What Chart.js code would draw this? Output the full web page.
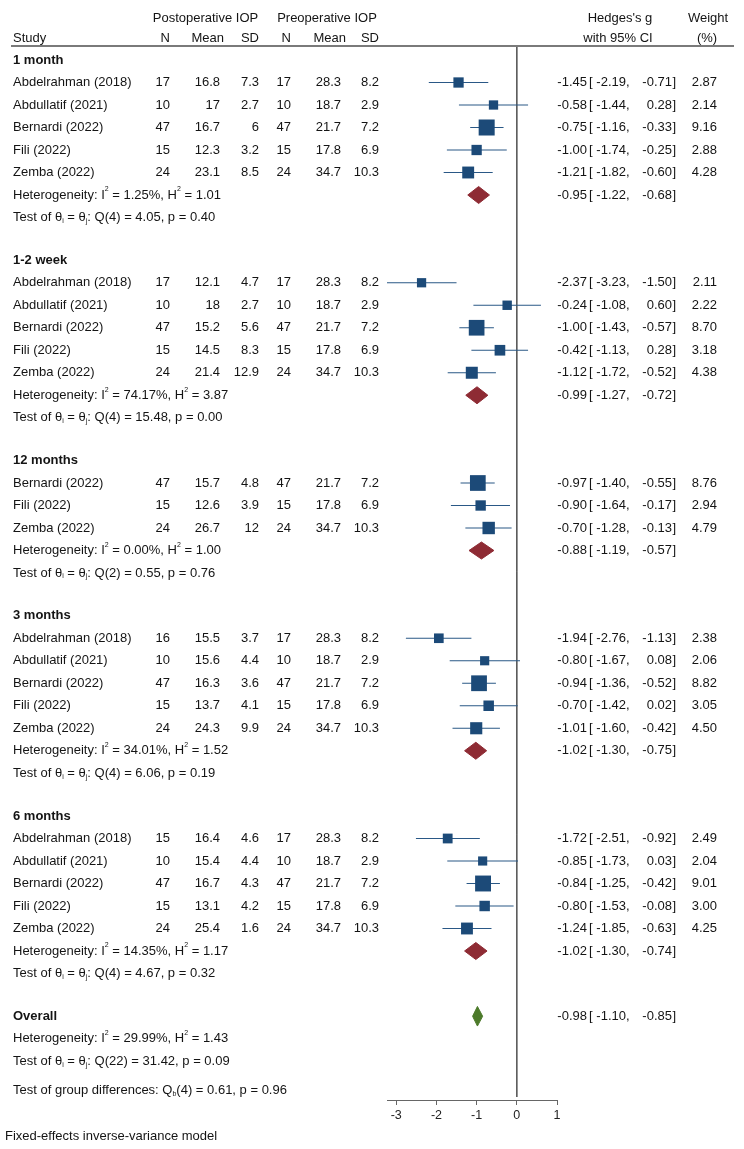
<!DOCTYPE html>
<html><head><meta charset="utf-8">
<script src="https://cdn.jsdelivr.net/npm/chart.js@4.4.0/dist/chart.umd.min.js"></script>
<style>html,body{margin:0;padding:0;background:#fff;}#wrap{width:744px;height:1149px;}</style>
</head><body><div id="wrap"><canvas id="c" width="744" height="1149"></canvas></div>
<script>
// ---------------- data ----------------
const groupLabels = ['1 month', '1-2 week', '12 months', '3 months', '6 months'];
const studyGroup  = [0,0,0,0,0, 1,1,1,1,1, 2,2,2, 3,3,3,3,3, 4,4,4,4,4];
const studyNames  = [
  'Abdelrahman (2018)','Abdullatif (2021)','Bernardi (2022)','Fili (2022)','Zemba (2022)',
  'Abdelrahman (2018)','Abdullatif (2021)','Bernardi (2022)','Fili (2022)','Zemba (2022)',
  'Bernardi (2022)','Fili (2022)','Zemba (2022)',
  'Abdelrahman (2018)','Abdullatif (2021)','Bernardi (2022)','Fili (2022)','Zemba (2022)',
  'Abdelrahman (2018)','Abdullatif (2021)','Bernardi (2022)','Fili (2022)','Zemba (2022)'];
const postN    = [17,10,47,15,24, 17,10,47,15,24, 47,15,24, 16,10,47,15,24, 15,10,47,15,24];
const postMean = [16.8,17,16.7,12.3,23.1, 12.1,18,15.2,14.5,21.4, 15.7,12.6,26.7, 15.5,15.6,16.3,13.7,24.3, 16.4,15.4,16.7,13.1,25.4];
const postSD   = [7.3,2.7,6,3.2,8.5, 4.7,2.7,5.6,8.3,12.9, 4.8,3.9,12, 3.7,4.4,3.6,4.1,9.9, 4.6,4.4,4.3,4.2,1.6];
const preN     = [17,10,47,15,24, 17,10,47,15,24, 47,15,24, 17,10,47,15,24, 17,10,47,15,24];
const preMean  = [28.3,18.7,21.7,17.8,34.7, 28.3,18.7,21.7,17.8,34.7, 21.7,17.8,34.7, 28.3,18.7,21.7,17.8,34.7, 28.3,18.7,21.7,17.8,34.7];
const preSD    = [8.2,2.9,7.2,6.9,10.3, 8.2,2.9,7.2,6.9,10.3, 7.2,6.9,10.3, 8.2,2.9,7.2,6.9,10.3, 8.2,2.9,7.2,6.9,10.3];
const hedgesG  = [-1.45,-0.58,-0.75,-1.00,-1.21, -2.37,-0.24,-1.00,-0.42,-1.12, -0.97,-0.90,-0.70, -1.94,-0.80,-0.94,-0.70,-1.01, -1.72,-0.85,-0.84,-0.80,-1.24];
const ciLow    = [-2.19,-1.44,-1.16,-1.74,-1.82, -3.23,-1.08,-1.43,-1.13,-1.72, -1.40,-1.64,-1.28, -2.76,-1.67,-1.36,-1.42,-1.60, -2.51,-1.73,-1.25,-1.53,-1.85];
const ciHigh   = [-0.71,0.28,-0.33,-0.25,-0.60, -1.50,0.60,-0.57,0.28,-0.52, -0.55,-0.17,-0.13, -1.13,0.08,-0.52,0.02,-0.42, -0.92,0.03,-0.42,-0.08,-0.63];
const weightPct= [2.87,2.14,9.16,2.88,4.28, 2.11,2.22,8.70,3.18,4.38, 8.76,2.94,4.79, 2.38,2.06,8.82,3.05,4.50, 2.49,2.04,9.01,3.00,4.25];

const groupG    = [-0.95,-0.99,-0.88,-1.02,-1.02];
const groupLow  = [-1.22,-1.27,-1.19,-1.30,-1.30];
const groupHigh = [-0.68,-0.72,-0.57,-0.75,-0.74];
const groupI2   = [1.25,74.17,0.00,34.01,14.35];
const groupH2   = [1.01,3.87,1.00,1.52,1.17];
const groupQdf  = [4,4,2,4,4];
const groupQ    = [4.05,15.48,0.55,6.06,4.67];
const groupP    = [0.40,0.00,0.76,0.19,0.32];

const overallG = -0.98, overallLow = -1.10, overallHigh = -0.85;
const overallI2 = 29.99, overallH2 = 1.43, overallQdf = 22, overallQ = 31.42, overallP = 0.09;
const diffQdf = 4, diffQ = 0.61, diffP = 0.96;

const tickValues = [-3, -2, -1, 0, 1];

// ---------------- layout ----------------
const ROW_PX = 22.5;
const GROUP_GAP = 1.9;
const rowPos = { header: [], study: [], het: [], test: [] };
let r = 0;
groupLabels.forEach((lab, gi) => {
  rowPos.header[gi] = r; r += 1;
  studyGroup.forEach((sg, i) => { if (sg === gi) { rowPos.study[i] = r; r += 1; } });
  rowPos.het[gi] = r; r += 1;
  rowPos.test[gi] = r; r += GROUP_GAP;
});
const overallRow = r, overallHetRow = r + 1, overallTestRow = r + 2, diffRow = r + 2 + 1.29;

const AREA_TOP = 46, AREA_BOTTOM = 1100, FIRST_ROW_PX = 60;
const yMin = -(FIRST_ROW_PX - AREA_TOP) / ROW_PX;
const yMax = yMin + (AREA_BOTTOM - AREA_TOP) / ROW_PX;

const SQ_COLOR = '#1c4a78', CI_COLOR = '#2a5886', RED = '#8e2b34', GREEN = '#4c7a2a', TXT = '#141414';
const FONT = '"Liberation Sans", Arial, sans-serif';
const FS = 13;

// ---------------- datasets ----------------
const datasets = [];
datasets.push({ type: 'line', data: [{x: 0, y: yMin}, {x: 0, y: yMax - 3 / ROW_PX}],
  borderColor: '#5a5a5a', borderWidth: 1, pointRadius: 0, fill: false, clip: false, order: 10 });
hedgesG.forEach((v, i) => {
  datasets.push({ type: 'line', data: [{x: ciLow[i], y: rowPos.study[i]}, {x: ciHigh[i], y: rowPos.study[i]}],
    borderColor: CI_COLOR, borderWidth: 1.2, pointRadius: 0, fill: false, clip: false, order: 5 });
});
const sqR = weightPct.map(w => (3 + 4.3 * Math.sqrt(w)) / Math.SQRT2);
datasets.push({ type: 'scatter', data: hedgesG.map((v, i) => ({x: v, y: rowPos.study[i]})),
  pointStyle: 'rect', pointRadius: sqR, pointHoverRadius: sqR,
  pointBackgroundColor: SQ_COLOR, backgroundColor: SQ_COLOR, pointBorderWidth: 0, borderWidth: 0,
  clip: false, order: 1 });
const DH = 8.5 / ROW_PX;
groupG.forEach((v, gi) => {
  const yy = rowPos.het[gi];
  datasets.push({ type: 'line', data: [
      {x: groupLow[gi], y: yy}, {x: v, y: yy - DH}, {x: groupHigh[gi], y: yy}, {x: v, y: yy + DH}, {x: groupLow[gi], y: yy}],
    fill: 'shape', backgroundColor: RED, borderColor: RED, borderWidth: 1, pointRadius: 0, tension: 0, clip: false, order: 0 });
});
const ODH = 9.8 / ROW_PX;
datasets.push({ type: 'line', data: [
    {x: overallLow, y: overallRow}, {x: overallG, y: overallRow - ODH}, {x: overallHigh, y: overallRow},
    {x: overallG, y: overallRow + ODH}, {x: overallLow, y: overallRow}],
  fill: 'shape', backgroundColor: GREEN, borderColor: GREEN, borderWidth: 1, pointRadius: 0, tension: 0, clip: false, order: 0 });

// ---------------- text plugin ----------------
const f2 = v => v.toFixed(2);
const textPlugin = {
  id: 'forestText',
  afterDraw(chart) {
    const ctx = chart.ctx, ys = chart.scales.y;
    const F = FS + 'px ' + FONT, FB = 'bold ' + FS + 'px ' + FONT;
    ctx.save();
    ctx.fillStyle = TXT; ctx.textBaseline = 'middle';
    const t = (s, x, y, align = 'left', font = F) => { ctx.font = font; ctx.textAlign = align; ctx.fillText(s, x, y); };
    const rich = (segs, x, y) => {
      let cx = x; ctx.textAlign = 'left';
      segs.forEach(([s, kind]) => {
        let font = F, dy = 0;
        if (kind === 'sup') { font = '7px ' + FONT; dy = -5.5; }
        if (kind === 'sub') { font = '7px ' + FONT; dy = 3.5; }
        ctx.font = font; ctx.fillText(s, cx, y + dy); cx += ctx.measureText(s).width;
      });
    };
    t('Postoperative IOP', 205.5, 18, 'center');
    t('Preoperative IOP', 327, 18, 'center');
    t('Study', 13, 38);
    t('N', 170, 38, 'right'); t('Mean', 224, 38, 'right'); t('SD', 259, 38, 'right');
    t('N', 291, 38, 'right'); t('Mean', 346, 38, 'right'); t('SD', 379, 38, 'right');
    t("Hedges's g", 620, 18, 'center'); t('with 95% CI', 618, 38, 'center');
    t('Weight', 708, 18, 'center'); t('(%)', 707, 38, 'center');
    ctx.strokeStyle = '#7a7a7a'; ctx.lineWidth = 2;
    ctx.beginPath(); ctx.moveTo(11, 46); ctx.lineTo(734, 46); ctx.stroke();

    const ci = (g, lo, hi, y) => {
      t(f2(g), 587, y, 'right'); t('[', 589, y);
      t(f2(lo), 626, y, 'right'); t(',', 626, y);
      t(f2(hi), 672, y, 'right'); t(']', 672.5, y);
    };
    groupLabels.forEach((lab, gi) => {
      t(lab, 13, ys.getPixelForValue(rowPos.header[gi]), 'left', FB);
      const yh = ys.getPixelForValue(rowPos.het[gi]);
      rich([['Heterogeneity: I', ''], ['2', 'sup'], [' = ' + f2(groupI2[gi]) + '%, H', ''], ['2', 'sup'], [' = ' + f2(groupH2[gi]), '']], 13, yh);
      ci(groupG[gi], groupLow[gi], groupHigh[gi], yh);
      const yt = ys.getPixelForValue(rowPos.test[gi]);
      rich([['Test of θ', ''], ['i', 'sub'], [' = θ', ''], ['j', 'sub'], [': Q(' + groupQdf[gi] + ') = ' + f2(groupQ[gi]) + ', p = ' + f2(groupP[gi]), '']], 13, yt);
    });
    studyNames.forEach((nm, i) => {
      const y = ys.getPixelForValue(rowPos.study[i]);
      t(nm, 13, y);
      t(String(postN[i]), 170, y, 'right'); t(String(postMean[i]), 220, y, 'right'); t(String(postSD[i]), 259, y, 'right');
      t(String(preN[i]), 291, y, 'right'); t(String(preMean[i]), 341, y, 'right'); t(String(preSD[i]), 379, y, 'right');
      ci(hedgesG[i], ciLow[i], ciHigh[i], y);
      t(f2(weightPct[i]), 717, y, 'right');
    });
    const yo = ys.getPixelForValue(overallRow);
    t('Overall', 13, yo, 'left', FB);
    ci(overallG, overallLow, overallHigh, yo);
    rich([['Heterogeneity: I', ''], ['2', 'sup'], [' = ' + f2(overallI2) + '%, H', ''], ['2', 'sup'], [' = ' + f2(overallH2), '']], 13, ys.getPixelForValue(overallHetRow));
    rich([['Test of θ', ''], ['i', 'sub'], [' = θ', ''], ['j', 'sub'], [': Q(' + overallQdf + ') = ' + f2(overallQ) + ', p = ' + f2(overallP), '']], 13, ys.getPixelForValue(overallTestRow));
    rich([['Test of group differences: Q', ''], ['b', 'sub'], ['(' + diffQdf + ') = ' + f2(diffQ) + ', p = ' + f2(diffP), '']], 13, ys.getPixelForValue(diffRow));
    t('Fixed-effects inverse-variance model', 5, 1136);
    ctx.restore();
  }
};

new Chart(document.getElementById('c'), {
  type: 'scatter',
  data: { datasets },
  options: {
    responsive: false, animation: false, devicePixelRatio: 1, events: [],
    layout: { padding: { left: 387, right: 187, top: AREA_TOP, bottom: 0 } },
    plugins: { legend: { display: false }, tooltip: { enabled: false } },
    scales: {
      x: {
        type: 'linear', position: 'bottom', min: -3.23, max: 1,
        afterBuildTicks: s => { s.ticks = tickValues.map(v => ({ value: v })); },
        afterFit: s => { s.height = 1149 - AREA_BOTTOM; },
        grid: { drawOnChartArea: false, drawTicks: true, tickLength: 5, color: '#666' },
        border: { display: true, color: '#666', width: 1 },
        ticks: { color: '#222', font: { family: FONT, size: 12.5 }, padding: 3, maxRotation: 0 }
      },
      y: { type: 'linear', display: false, reverse: true, min: yMin, max: yMax }
    }
  },
  plugins: [textPlugin]
});
</script></body></html>
